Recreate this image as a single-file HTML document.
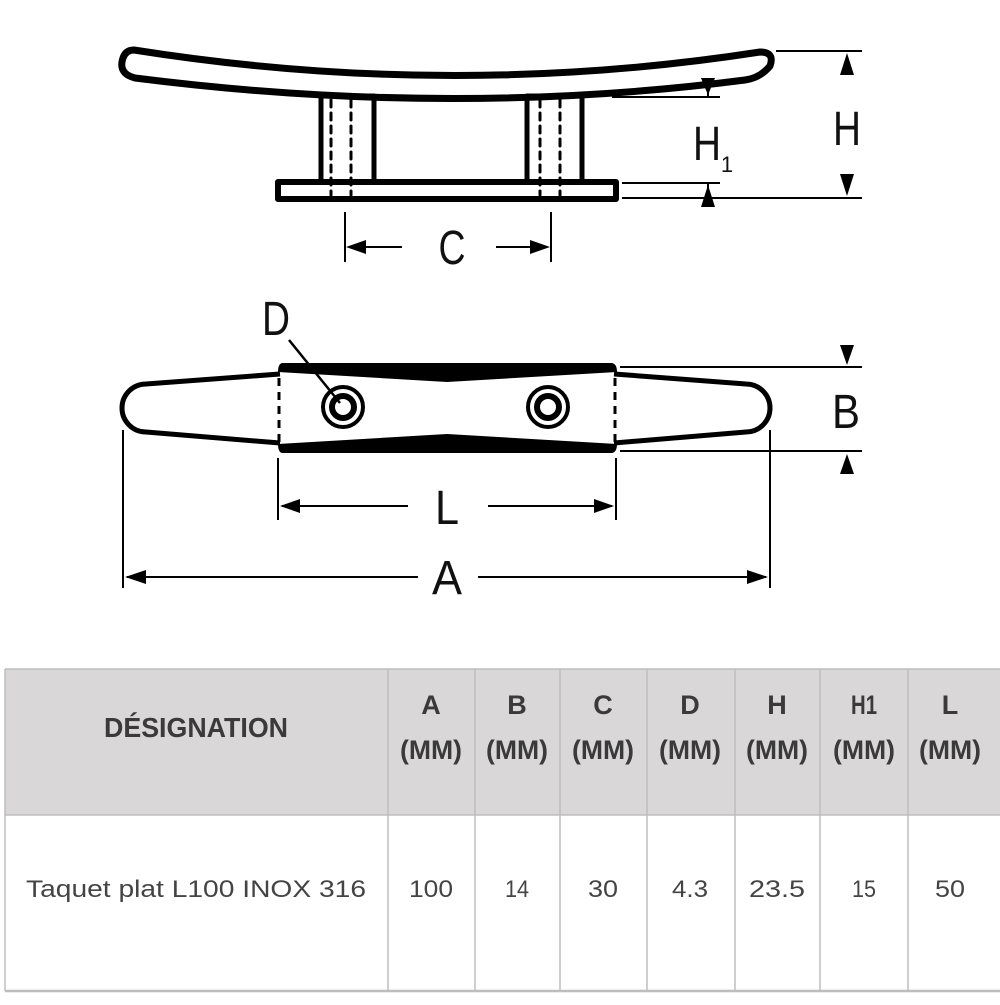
<!DOCTYPE html>
<html><head><meta charset="utf-8"><style>
body{margin:0;background:#fff;width:1000px;height:1000px;overflow:hidden;font-family:"Liberation Sans",sans-serif}
</style></head><body>
<svg width="1000" height="1000" viewBox="0 0 1000 1000" xmlns="http://www.w3.org/2000/svg">
<rect width="1000" height="1000" fill="#fff"/>
<g fill="none" stroke="#000" stroke-linejoin="round" stroke-linecap="round">
<path d="M134,50 Q450,100 760,52 Q775,52 770,66 Q760,78 745,80 Q450,118 135,78 Q120,74 122,62 Q124,50 134,50 Z" stroke-width="7"/>
<rect x="321" y="96" width="53" height="86" stroke-width="5"/>
<rect x="527" y="96" width="55" height="86" stroke-width="5"/>
<g stroke-width="3" stroke-dasharray="7,6">
<line x1="331" y1="100" x2="331" y2="195"/><line x1="351" y1="100" x2="351" y2="195"/>
<line x1="540" y1="100" x2="540" y2="195"/><line x1="560" y1="100" x2="560" y2="195"/>
</g>
<rect x="278" y="182" width="338" height="17" stroke-width="6"/>
</g>
<g stroke="#000" stroke-width="2" fill="none">
<line x1="776" y1="51" x2="862" y2="51"/><line x1="612" y1="97" x2="720" y2="97"/>
<line x1="622" y1="183" x2="720" y2="183"/><line x1="622" y1="198" x2="862" y2="198"/>
<line x1="708" y1="78" x2="708" y2="97"/><line x1="708" y1="183" x2="708" y2="205"/>
<line x1="345" y1="212" x2="345" y2="262"/><line x1="551" y1="212" x2="551" y2="262"/>
<line x1="350" y1="247" x2="402" y2="247"/><line x1="496" y1="247" x2="546" y2="247"/>
</g>
<g fill="#000">
<polygon points="847,53 840,75 854,75"/><polygon points="847,196 840,174 854,174"/>
<polygon points="708,95 701,78 715,78"/><polygon points="708,185 701,207 715,207"/>
<polygon points="346,247 366,240 366,254"/><polygon points="550,247 530,240 530,254"/>
</g>
<g font-size="48" fill="#111" text-anchor="middle">
<text x="847" y="145" textLength="28" lengthAdjust="spacingAndGlyphs">H</text>
<text x="707" y="160" textLength="28" lengthAdjust="spacingAndGlyphs">H</text><text x="727" y="172" font-size="22">1</text>
<text x="452" y="264" textLength="27" lengthAdjust="spacingAndGlyphs">C</text>
</g>
<g fill="none" stroke="#000" stroke-width="5" stroke-linejoin="round">
<path d="M280,374 L146,384 A24,24 0 0 0 146,432 L280,443"/>
<path d="M614,374 L746,384 A24,24 0 0 1 746,432 L614,443"/>
</g>
<path d="M282,363 L612,363 Q617,364 617,372 L447,382 L278,372 Q278,364 282,363 Z" fill="#000"/>
<path d="M282,453 L612,453 Q617,452 617,444 L447,434 L278,444 Q278,452 282,453 Z" fill="#000"/>
<g stroke="#000" stroke-width="3" stroke-dasharray="8,6">
<line x1="279" y1="378" x2="279" y2="442"/><line x1="615" y1="378" x2="615" y2="442"/>
</g>
<g fill="none" stroke="#000">
<circle cx="343" cy="407" r="20" stroke-width="4"/><circle cx="343" cy="407" r="11" stroke-width="6"/>
<circle cx="548" cy="407" r="20" stroke-width="4"/><circle cx="548" cy="407" r="11" stroke-width="6"/>
<line x1="289" y1="340" x2="340" y2="403" stroke-width="2.5"/>
</g>
<g stroke="#000" stroke-width="2" fill="none">
<line x1="620" y1="367" x2="862" y2="367"/><line x1="620" y1="451" x2="862" y2="451"/>
<line x1="278" y1="458" x2="278" y2="520"/><line x1="616" y1="458" x2="616" y2="520"/>
<line x1="282" y1="506" x2="408" y2="506"/><line x1="488" y1="506" x2="612" y2="506"/>
<line x1="123" y1="430" x2="123" y2="588"/><line x1="770" y1="430" x2="770" y2="588"/>
<line x1="127" y1="577" x2="418" y2="577"/><line x1="478" y1="577" x2="766" y2="577"/>
</g>
<g fill="#000">
<polygon points="847,365 840,345 854,345"/><polygon points="847,454 840,474 854,474"/>
<polygon points="280,506 300,499 300,513"/><polygon points="614,506 594,499 594,513"/>
<polygon points="125,577 146,570 146,584"/><polygon points="768,577 747,570 747,584"/>
</g>
<g font-size="48" fill="#111" text-anchor="middle">
<text x="846" y="428" textLength="28" lengthAdjust="spacingAndGlyphs">B</text>
<text x="276" y="335" textLength="28" lengthAdjust="spacingAndGlyphs">D</text>
<text x="447" y="524" textLength="24" lengthAdjust="spacingAndGlyphs">L</text>
<text x="447" y="594" textLength="30" lengthAdjust="spacingAndGlyphs">A</text>
</g>
<rect x="5" y="669" width="995" height="146" fill="#d9d7d7"/>
<g stroke="#bdbdbd" stroke-width="1.5">
<line x1="5" y1="669" x2="1000" y2="669"/><line x1="5" y1="815" x2="1000" y2="815"/>
<line x1="5" y1="991" x2="1000" y2="991" stroke-width="2.5"/>
<line x1="5" y1="669" x2="5" y2="991"/>
<line x1="388" y1="669" x2="388" y2="991"/><line x1="475" y1="669" x2="475" y2="991"/>
<line x1="560" y1="669" x2="560" y2="991"/><line x1="647" y1="669" x2="647" y2="991"/>
<line x1="735" y1="669" x2="735" y2="991"/><line x1="820" y1="669" x2="820" y2="991"/>
<line x1="908" y1="669" x2="908" y2="991"/>
</g>
<g fill="#3a3a3a" font-weight="bold" font-size="28" text-anchor="middle">
<text x="196" y="737" textLength="184" lengthAdjust="spacingAndGlyphs">DÉSIGNATION</text>
<g font-size="27">
<text x="431" y="714">A</text><text x="431" y="759" textLength="62" lengthAdjust="spacingAndGlyphs">(MM)</text>
<text x="517" y="714">B</text><text x="517" y="759" textLength="62" lengthAdjust="spacingAndGlyphs">(MM)</text>
<text x="603" y="714">C</text><text x="603" y="759" textLength="62" lengthAdjust="spacingAndGlyphs">(MM)</text>
<text x="690" y="714">D</text><text x="690" y="759" textLength="62" lengthAdjust="spacingAndGlyphs">(MM)</text>
<text x="777" y="714">H</text><text x="777" y="759" textLength="62" lengthAdjust="spacingAndGlyphs">(MM)</text>
<text x="864" y="714" textLength="26" lengthAdjust="spacingAndGlyphs">H1</text><text x="864" y="759" textLength="62" lengthAdjust="spacingAndGlyphs">(MM)</text>
<text x="950" y="714">L</text><text x="950" y="759" textLength="62" lengthAdjust="spacingAndGlyphs">(MM)</text>
</g>
</g>
<g fill="#444" font-size="24" text-anchor="middle">
<text x="196" y="897" textLength="340" lengthAdjust="spacingAndGlyphs">Taquet plat L100 INOX 316</text>
<text x="431" y="897" textLength="44" lengthAdjust="spacingAndGlyphs">100</text><text x="517" y="897" textLength="24" lengthAdjust="spacingAndGlyphs">14</text><text x="603" y="897" textLength="30" lengthAdjust="spacingAndGlyphs">30</text>
<text x="690" y="897" textLength="36" lengthAdjust="spacingAndGlyphs">4.3</text><text x="777" y="897" textLength="56" lengthAdjust="spacingAndGlyphs">23.5</text><text x="864" y="897" textLength="24" lengthAdjust="spacingAndGlyphs">15</text><text x="950" y="897" textLength="30" lengthAdjust="spacingAndGlyphs">50</text>
</g>
</svg>
</body></html>
